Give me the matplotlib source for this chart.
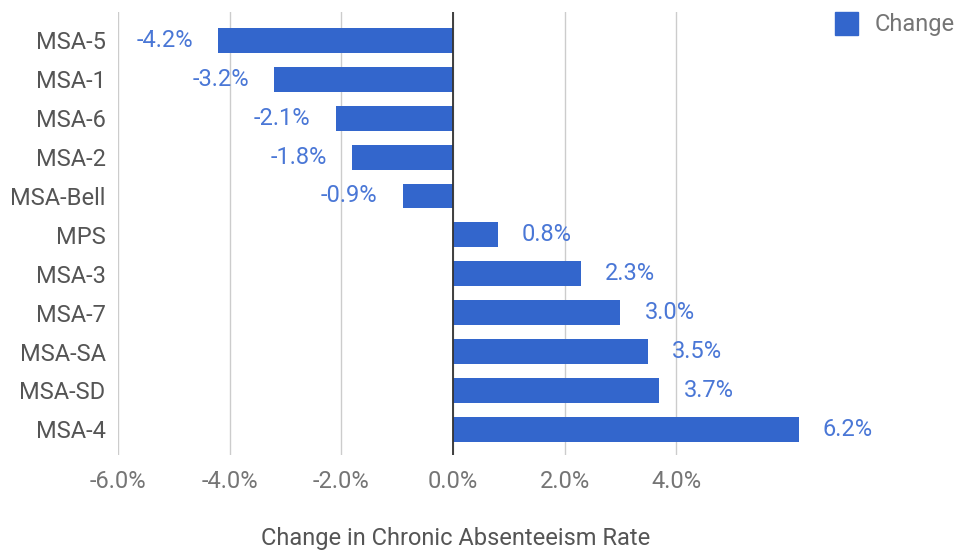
import matplotlib
matplotlib.use("Agg")
import matplotlib.pyplot as plt
from matplotlib.patches import Rectangle

categories = ["MSA-5", "MSA-1", "MSA-6", "MSA-2", "MSA-Bell", "MPS",
              "MSA-3", "MSA-7", "MSA-SA", "MSA-SD", "MSA-4"]
values = [-4.2, -3.2, -2.1, -1.8, -0.9, 0.8, 2.3, 3.0, 3.5, 3.7, 6.2]
xticks = [-6, -4, -2, 0, 2, 4]
xtick_labels = ["-6.0%", "-4.0%", "-2.0%", "0.0%", "2.0%", "4.0%"]
series_name = "Change"
x_title = "Change in Chronic Absenteeism Rate"

plt.rcParams['font.family'] = ['Roboto', 'DejaVu Sans']

W, H = 961, 552
fig = plt.figure(figsize=(W / 100, H / 100), dpi=100)
left, right, top, bottom = 118, 799, 12, 455
ax = fig.add_axes([left / W, 1 - bottom / H, (right - left) / W, (bottom - top) / H])

bar_color = "#3366cc"
label_color = "#4a77d6"
text_gray = "#757575"
fs = 17

ys = list(range(len(categories)))
ax.barh(ys, values, height=0.64, color=bar_color, zorder=3)
ax.set_xlim(-6, 6.2)
ax.set_ylim(10.66, -0.73)

ax.set_xticks(xticks)
ax.set_xticklabels(xtick_labels)
ax.set_yticks(ys)
ax.set_yticklabels(categories)
ax.tick_params(axis='both', length=0, labelsize=fs, colors=text_gray)
ax.tick_params(axis='x', pad=11)
ax.tick_params(axis='y', pad=9)
for lab in ax.get_yticklabels():
    lab.set_color("#555555")

for s in ax.spines.values():
    s.set_visible(False)
ax.grid(axis='x', color="#cccccc", linewidth=1, zorder=0)
ax.axvline(0, color="#333333", linewidth=1.3, zorder=4)

for y, v in zip(ys, values):
    txt = f"{v:.1f}%"
    if v < 0:
        ax.annotate(txt, (v, y), xytext=(-25, 0), textcoords='offset pixels',
                    ha='right', va='center', fontsize=fs, color=label_color)
    else:
        ax.annotate(txt, (v, y), xytext=(24, 0), textcoords='offset pixels',
                    ha='left', va='center', fontsize=fs, color=label_color)

fig.text(456 / W, 1 - 538 / H, x_title, fontsize=fs,
         color="#555555", ha='center', va='center')

# legend
fig.patches.append(Rectangle((835 / W, 1 - 35 / H), 23 / W, 23 / H,
                             transform=fig.transFigure, color=bar_color))
fig.text(875 / W, 1 - 24 / H, series_name, fontsize=fs, color=text_gray,
         ha='left', va='center')

fig.savefig("out.png", dpi=100)
